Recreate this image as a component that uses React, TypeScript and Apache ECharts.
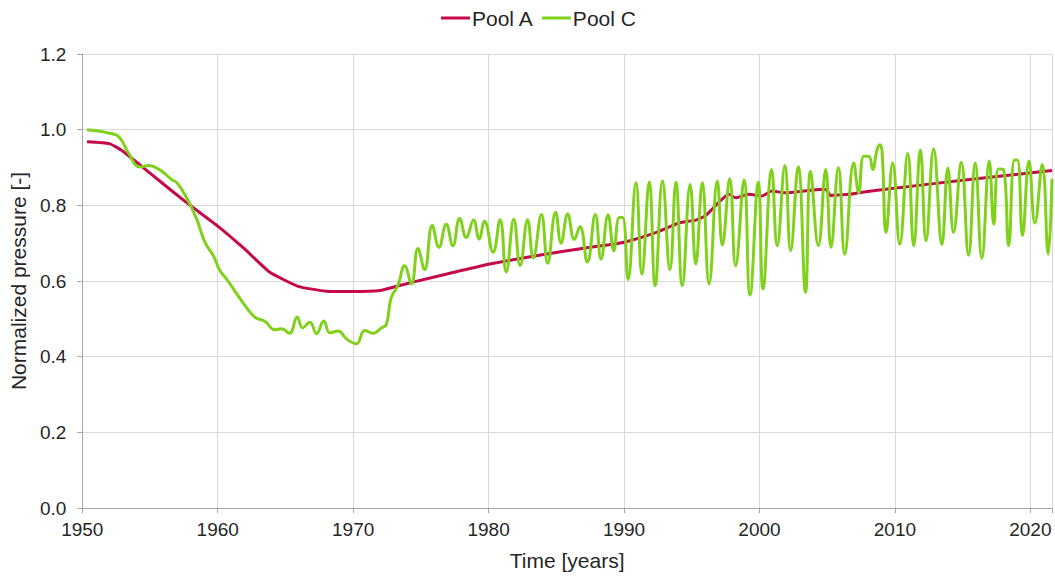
import React, { useEffect, useRef } from "react";
import * as echarts from "echarts";

// Pool A – normalized pressure history
const poolAYears = [
  1950.35, 1952.0, 1953.0, 1955.0, 1957.7, 1960.0, 1962.0, 1963.85, 1965.94, 1968.0,
  1970.0, 1972.0, 1973.2, 1974.4, 1977.9, 1980.1, 1983.5, 1986.9, 1988.9, 1990.1,
  1992.35, 1994.1, 1995.3, 1996.0, 1997.75, 1998.25, 1999.2, 2000.2, 2000.9, 2001.9,
  2004.4, 2004.9, 2005.25, 2006.6, 2007.3, 2010.1, 2015.0, 2021.6,
];
const poolAValues = [
  0.968, 0.963, 0.943, 0.885, 0.807, 0.745, 0.684, 0.623, 0.586, 0.573,
  0.572, 0.575, 0.586, 0.597, 0.627, 0.645, 0.667, 0.686, 0.696, 0.703,
  0.728, 0.754, 0.761, 0.772, 0.829, 0.82, 0.829, 0.825, 0.838, 0.833,
  0.842, 0.842, 0.826, 0.829, 0.833, 0.846, 0.866, 0.892,
];

// Pool C – normalized pressure history (seasonal swings from ~1974)
const poolCYears = [
  1950.35, 1951.3, 1952.2, 1952.56, 1952.9, 1953.4, 1954.27, 1954.9, 1955.75, 1956.6,
  1956.98, 1957.7, 1958.45, 1959.06, 1959.67, 1960.17, 1960.66, 1961.4, 1962.1, 1962.75,
  1963.5, 1964.2, 1964.7, 1965.3, 1965.87, 1966.26, 1966.8, 1967.3, 1967.83, 1968.28,
  1968.9, 1969.5, 1970.24, 1970.85, 1971.46, 1972.08, 1972.45, 1972.8, 1973.3, 1973.8,
  1974.3, 1974.78, 1975.27, 1975.84, 1976.33, 1976.87, 1977.36, 1977.86, 1978.35, 1978.89,
  1979.3, 1979.7, 1980.33, 1980.85, 1981.3, 1981.86, 1982.33, 1982.88, 1983.3, 1983.9,
  1984.36, 1984.95, 1985.35, 1985.84, 1986.33, 1986.75, 1987.29, 1987.88, 1988.3, 1988.82,
  1989.24, 1989.65, 1989.9, 1990.3, 1990.88, 1991.32, 1991.86, 1992.3, 1992.84, 1993.39,
  1993.83, 1994.3, 1994.88, 1995.3, 1995.78, 1996.28, 1996.89, 1997.26, 1997.8, 1998.24,
  1998.86, 1999.3, 1999.91, 2000.26, 2000.9, 2001.31, 2001.88, 2002.3, 2002.86, 2003.4,
  2003.77, 2004.35, 2004.89, 2005.28, 2005.83, 2006.3, 2006.96, 2007.33, 2007.7, 2008.07,
  2008.36, 2008.68, 2008.88, 2009.05, 2009.35, 2009.84, 2010.36, 2010.95, 2011.39, 2011.88,
  2012.3, 2012.86, 2013.47, 2013.91, 2014.33, 2014.9, 2015.44, 2015.93, 2016.42, 2016.97,
  2017.3, 2017.65, 2018.0, 2018.4, 2018.83, 2019.05, 2019.42, 2019.9, 2020.34, 2020.88,
  2021.32, 2021.6,
];
const poolCValues = [
  1.0, 0.996, 0.989, 0.985, 0.972, 0.939, 0.901, 0.905, 0.893, 0.868,
  0.86, 0.82, 0.763, 0.702, 0.667, 0.627, 0.605, 0.566, 0.531, 0.504,
  0.493, 0.471, 0.474, 0.462, 0.505, 0.476, 0.491, 0.461, 0.494, 0.463,
  0.468, 0.447, 0.434, 0.469, 0.462, 0.476, 0.485, 0.555, 0.588, 0.64,
  0.592, 0.686, 0.63, 0.747, 0.689, 0.75, 0.693, 0.765, 0.715, 0.761,
  0.711, 0.758, 0.676, 0.762, 0.624, 0.763, 0.641, 0.762, 0.661, 0.776,
  0.647, 0.782, 0.7, 0.777, 0.71, 0.744, 0.65, 0.776, 0.658, 0.775,
  0.68, 0.768, 0.768, 0.604, 0.86, 0.618, 0.861, 0.588, 0.864, 0.63,
  0.861, 0.588, 0.855, 0.645, 0.86, 0.592, 0.864, 0.695, 0.87, 0.64,
  0.867, 0.563, 0.861, 0.579, 0.895, 0.693, 0.905, 0.68, 0.902, 0.57,
  0.89, 0.693, 0.895, 0.689, 0.9, 0.671, 0.912, 0.833, 0.93, 0.93,
  0.895, 0.947, 0.96, 0.943, 0.728, 0.912, 0.697, 0.937, 0.693, 0.946,
  0.706, 0.949, 0.697, 0.899, 0.728, 0.914, 0.668, 0.912, 0.66, 0.917,
  0.75, 0.896, 0.895, 0.693, 0.92, 0.92, 0.72, 0.917, 0.753, 0.908,
  0.671, 0.87,
];

const xMin = 1950;
const xMax = 2021.6;
const yMin = 0;
const yMax = 1.2;

const FONT = "'Liberation Sans', Arial, sans-serif";
const TEXT = "#262626";
const AXIS = "#a6a6a6";
const GRID = "#d9d9d9";
const RED = "#c5094b";
const GREEN = "#7fd11c";

export default function App() {
  const ref = useRef<HTMLDivElement>(null);

  useEffect(() => {
    if (!ref.current) return;
    const chart = echarts.init(ref.current, undefined, { renderer: "svg" });
    const pairs = (xs: number[], ys: number[]) => xs.map((x, i) => [x, ys[i]]);

    chart.setOption({
      animation: false,
      backgroundColor: "#ffffff",
      textStyle: { fontFamily: FONT },
      legend: {
        top: 1,
        left: 436,
        icon: "rect",
        itemWidth: 29,
        itemHeight: 3,
        itemGap: 8,
        textStyle: {
          fontFamily: FONT,
          fontSize: 21,
          color: TEXT,
          padding: [0, 0, 0, -3],
          lineHeight: 24,
        },
        data: ["Pool A", "Pool C"],
      },
      grid: { left: 82, right: 0, top: 54, bottom: 66, containLabel: false },
      xAxis: {
        type: "value",
        min: xMin,
        max: xMax,
        interval: 10,
        name: "Time [years]",
        nameLocation: "middle",
        nameGap: 42,
        nameTextStyle: { fontFamily: FONT, fontSize: 21, color: TEXT },
        axisLine: { lineStyle: { color: AXIS, width: 1 } },
        axisTick: { show: true, length: 5, lineStyle: { color: AXIS } },
        axisLabel: {
          fontFamily: FONT,
          fontSize: 19,
          color: TEXT,
          margin: 12,
          formatter: (v: number) => (Math.abs(v % 10) < 1e-6 ? String(Math.round(v)) : ""),
        },
        splitLine: { show: true, lineStyle: { color: GRID, width: 1 } },
      },
      yAxis: {
        type: "value",
        min: yMin,
        max: yMax,
        interval: 0.2,
        name: "Normalized pressure [-]",
        nameLocation: "middle",
        nameGap: 50,
        nameTextStyle: { fontFamily: FONT, fontSize: 21, color: TEXT },
        axisLine: { show: true, lineStyle: { color: AXIS, width: 1 } },
        axisTick: { show: true, length: 5, lineStyle: { color: AXIS } },
        axisLabel: {
          fontFamily: FONT,
          fontSize: 19,
          color: TEXT,
          margin: 16,
          formatter: (v: number) => v.toFixed(1),
        },
        splitLine: { show: true, lineStyle: { color: GRID, width: 1 } },
      },
      series: [
        {
          name: "Pool A",
          type: "line",
          data: pairs(poolAYears, poolAValues),
          symbol: "none",
          smooth: 0.15,
          color: RED,
          lineStyle: { color: RED, width: 3 },
          z: 2,
        },
        {
          name: "Pool C",
          type: "line",
          data: pairs(poolCYears, poolCValues),
          symbol: "none",
          smooth: 0.45,
          color: GREEN,
          lineStyle: { color: GREEN, width: 3 },
          z: 3,
        },
      ],
    });

    return () => chart.dispose();
  }, []);

  return (
    <div
      ref={ref}
      style={{ position: "absolute", left: 0, top: 0, width: 1055, height: 576 }}
    />
  );
}
